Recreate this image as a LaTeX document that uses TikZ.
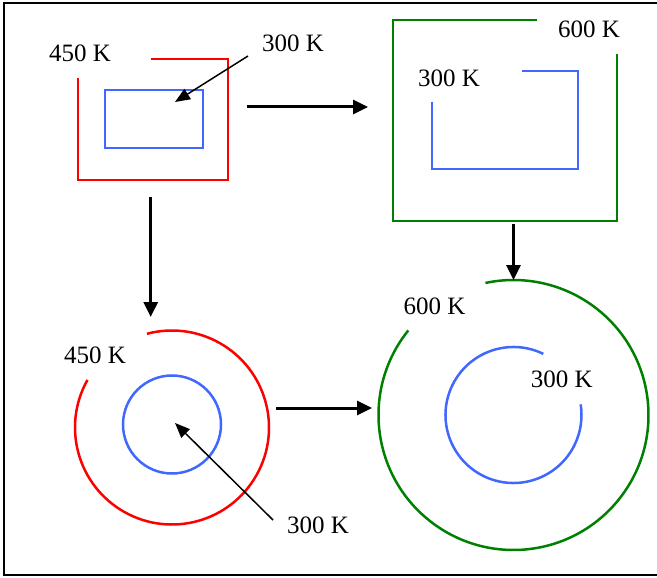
\documentclass[tikz,border=0pt]{standalone}
\usepackage{fontspec}
\setmainfont{Liberation Serif}
\usetikzlibrary{arrows.meta}
\definecolor{hotred}{RGB}{255,0,0}
\definecolor{coldblue}{RGB}{64,104,255}
\definecolor{hotgreen}{RGB}{0,128,0}
\tikzset{
  lbl/.style={anchor=base, inner sep=0pt, font=\fontsize{25}{30}\selectfont},
  wall/.style={line width=2.5pt},
  flow/.style={line width=3pt, -{Triangle[length=15pt,width=14pt]}},
  pointer/.style={line width=1.5pt, -{Triangle[length=15pt,width=12pt]}},
}
\begin{document}
\begin{tikzpicture}[x=1pt, y=-1pt]
\useasboundingbox (0,0) rectangle (657,578);
% frame
\draw[line width=2pt] (657,3.5) -- (4,3.5) -- (4,575) -- (657,575);

% --- top left: square vessel at 450 K with inner box at 300 K
\draw[wall, hotred] (78,78) -- (78,180) -- (228,180) -- (228,59) -- (151,59);
\draw[wall, coldblue] (105,90) rectangle (203,148);
\node[lbl] (tlhot) at (80,61.5) {450 K};
\node[lbl] (tlcold) at (293,51.5) {300 K};
\coordinate (tlptr) at (248,56);
\coordinate (tltip) at (175,102);
\draw[pointer] (tlptr) -- (tltip);

% --- top right: square vessel at 600 K with open box at 300 K
\draw[wall, hotgreen] (537,20) -- (393,20) -- (393,221) -- (617,221) -- (617,54);
\draw[wall, coldblue] (432,102) -- (432,169) -- (578,169) -- (578,71) -- (522,71);
\node[lbl] (trhot) at (589,37.3) {600 K};
\node[lbl] (trcold) at (449,86.7) {300 K};

% --- bottom left: round vessel at 450 K with inner circle at 300 K
% (y axis points down, so angles run clockwise)
\coordinate (blc) at (172,427.5);
\draw[wall, hotred] (blc) ++(-150.6:97) arc[start angle=-150.6, end angle=-465, radius=97];
\draw[wall, coldblue] (172,424.5) circle[radius=49];
\node[lbl] (blhot) at (95,363) {450 K};
\node[lbl] (blcold) at (318,533) {300 K};
\coordinate (blptr) at (273,520);
\coordinate (bltip) at (175,423);
\draw[pointer] (blptr) -- (bltip);

% --- bottom right: round vessel at 600 K with open circle at 300 K
\coordinate (brc) at (513.5,415);
\draw[wall, hotgreen] (brc) ++(-141.2:135) arc[start angle=-141.2, end angle=-462, radius=135];
\draw[wall, coldblue] (brc) ++(-64:68) arc[start angle=-64, end angle=-369, radius=68];
\node[lbl] (brhot) at (434.5,314.3) {600 K};
\node[lbl] (brcold) at (561.7,387.3) {300 K};

% --- flow arrows between the four stages
\coordinate (a1s) at (247,107);  \coordinate (a1e) at (368,107);
\coordinate (a2s) at (150.7,197); \coordinate (a2e) at (150.7,317);
\coordinate (a3s) at (513.5,224); \coordinate (a3e) at (513.5,280);
\coordinate (a4s) at (276,408);  \coordinate (a4e) at (372,408);
\draw[flow] (a1s) -- (a1e);
\draw[flow] (a2s) -- (a2e);
\draw[flow] (a3s) -- (a3e);
\draw[flow] (a4s) -- (a4e);
\end{tikzpicture}
\end{document}
